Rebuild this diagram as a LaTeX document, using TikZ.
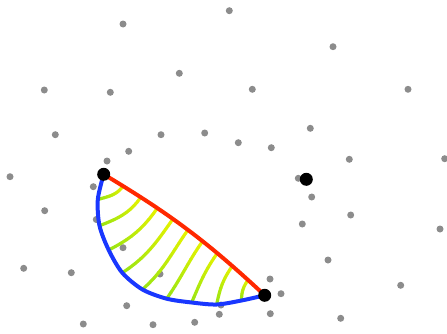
\documentclass[tikz,border=0pt]{standalone}
\usetikzlibrary{calc}

\definecolor{dotgray}{RGB}{140,140,140}
\definecolor{edgered}{RGB}{255,40,0}
\definecolor{edgeblue}{RGB}{25,55,255}
\definecolor{hatchyellow}{RGB}{228,242,0}
\definecolor{hatchgreen}{RGB}{150,228,20}

\begin{document}
\begin{tikzpicture}[
    x=1pt, y=1pt,
    pt/.style={circle, fill=dotgray, inner sep=0pt, minimum size=7pt},
    endpt/.style={circle, fill=black, inner sep=0pt, minimum size=13pt},
    redline/.style={draw=edgered, line width=4pt},
    blueline/.style={draw=edgeblue, line width=4pt, line join=round},
    hatch/.style={line width=3.2pt, line cap=round}
]
\useasboundingbox (0,0) rectangle (447,333);

% --- grey sample points ---
\foreach \x/\y [count=\n] in {123/309, 179.3/259.7, 44.3/243, 110.3/240.7, 55.3/198.3,
    161/198.3, 204.7/200, 128.7/181.7, 107/172, 229.3/322.3, 333/286.3, 252.3/243.7,
    408/243.7, 310.3/204.7, 238.3/190.3, 271.3/185.3, 349.3/173.7, 444.7/174.3,
    10/156.3, 93.3/146.3, 44.7/122.3, 96.3/113.5, 123/85.3, 23.7/64.7, 71.3/60.3,
    160/59, 126.7/27.3, 219.3/18.7, 83.3/9, 153/8.3, 194.7/10.7, 298.3/154.7,
    311.7/136, 350.7/118, 302.3/109, 440/104, 328/73, 400.7/47.7, 270/54,
    281/39.3, 270.3/19.3, 340.7/14.7, 221/28}
    \node[pt] (p\n) at (\x,\y) {};

% --- end points of the two paths ---
\coordinate (A) at (103.7,158.7);
\coordinate (B) at (264.7,37.7);

% --- points on the blue path ---
\foreach \x/\y [count=\n] in {97.8/133.5, 99.5/107.3, 108.7/83, 122.3/60.2, 142.5/43.5,
    166.7/34.3, 191.7/30.5, 216.7/28.5, 241.5/32.5}
    \coordinate (b\n) at (\x,\y);

% --- points on the red path ---
\path (A) to[bend left=6]
    coordinate[pos=0.1] (r1) coordinate[pos=0.2] (r2) coordinate[pos=0.3] (r3)
    coordinate[pos=0.4] (r4) coordinate[pos=0.5] (r5) coordinate[pos=0.6] (r6)
    coordinate[pos=0.7] (r7) coordinate[pos=0.8] (r8) coordinate[pos=0.9] (r9) (B);

% --- hatching between the paths ---
\foreach \i/\a in {1/16, 2/21, 3/27, 4/33, 5/42, 6/55, 7/67, 8/79, 9/90} {
    \foreach \j [evaluate=\j as \t using \j/10] in {0,...,10}
        \path (r\i) to[out=235, in=\a] coordinate[pos=\t] (h\j) (b\i);
    \foreach \j [evaluate=\j as \k using int(\j+1), evaluate=\j as \c using int(100-10*\j)] in {0,...,9}
        \draw[hatch, hatchyellow!\c!hatchgreen] (h\j) -- (h\k);
}

% --- the two paths ---
\draw[redline] (A) to[bend left=6] (B);
\draw[blueline] plot[smooth, tension=0.5] coordinates {(A) (b1) (b2) (b3) (b4) (b5) (b6) (b7) (b8) (b9) (B)};

% --- black points ---
\node[endpt] (nA) at (A) {};
\node[endpt] (nB) at (B) {};
\node[endpt] (nC) at (306.3,153.7) {};

\end{tikzpicture}
\end{document}
